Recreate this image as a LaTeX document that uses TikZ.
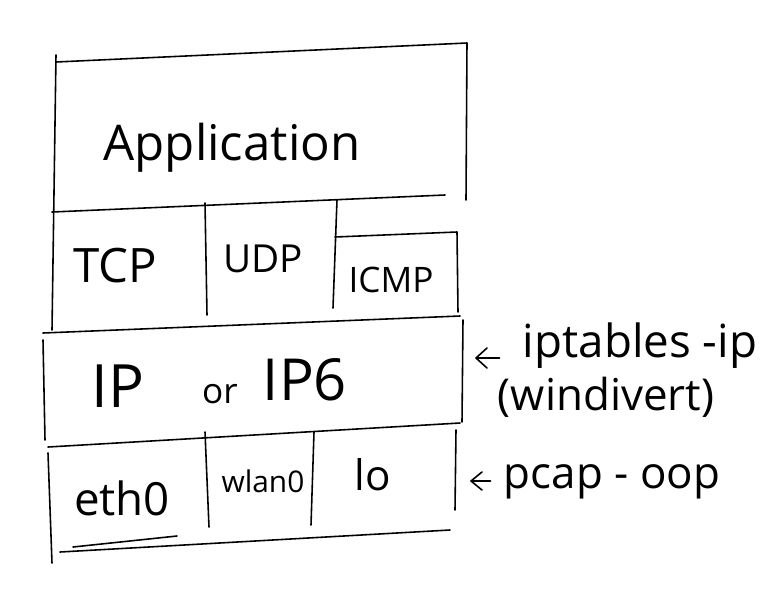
\documentclass[tikz,border=0pt]{standalone}
\usepackage{fontspec}
\setmainfont{Open Sans}
\newcommand{\fs}[1]{\fontsize{#1}{#1}\selectfont}
\begin{document}
\begin{tikzpicture}[x=0.02cm,y=-0.02cm,line width=0.9pt,line cap=round,line join=round,
  lbl/.style={inner sep=0pt,anchor=base}]
\useasboundingbox (0,0) rectangle (768,596);

% application
\draw (56,62) -- (467,43) -- (466,200);
\draw (56,55) -- (52,330);
\draw (52,212) -- (445,195);
\node[lbl,font=\fs{28}] (app) at (232,160) {Application};

% transport
\draw (205,203) -- (207,315);
\draw (337,200) -- (333,308);
\draw (335,237) -- (457,232) -- (458,312);
\node[lbl,font=\fs{27}] (tcp) at (115,282) {TCP};
\node[lbl,font=\fs{22}] (udp) at (263,272) {UDP};
\node[lbl,font=\fs{20}] (icmp) at (391,292) {ICMP};

% network
\draw (43,333) -- (460,316);
\draw (43,340) -- (45,440);
\draw (463,320) -- (462,422);
\draw (48,447) -- (460,423);
\node[lbl,font=\fs{34}] (ip) at (118,407) {IP};
\node[lbl,font=\fs{20}] (ipor) at (220,403) {or};
\node[lbl,font=\fs{33}] (ipsix) at (305,400) {IP6};

% link
\draw (48,453) -- (52,563);
\draw (205,432) -- (209,527);
\draw (314,432) -- (311,525);
\draw (456,430) -- (455,510);
\draw (60,552) -- (450,530);
\draw (73,547) -- (177,536);
\node[lbl,font=\fs{26}] (eth) at (122,515) {eth0};
\node[lbl,font=\fs{17}] (wlan) at (263,492) {wlan0};
\node[lbl,font=\fs{24}] (lo) at (373,490) {lo};

% hooks
\node[lbl,font=\fs{26}] (ipt) at (640,357) {iptables -ip};
\node[lbl,font=\fs{25}] (wdv) at (606,410) {(windivert)};
\node[lbl,font=\fs{25}] (pcap) at (612,488) {pcap - oop};
\coordinate (iphook) at (476,358);
\coordinate (pcaphook) at (471,481);
\draw ([xshift=-0.45cm]ipt.west |- iphook) -- (iphook) ++(11,-10) -- (iphook) -- ++(11,10);
\draw ([xshift=-0.25cm]pcap.west |- pcaphook) -- (pcaphook) ++(11,-9) -- (pcaphook) -- ++(11,9);
\end{tikzpicture}
\end{document}
